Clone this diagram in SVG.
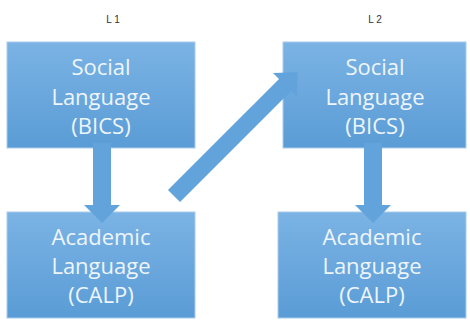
<svg xmlns="http://www.w3.org/2000/svg" width="470" height="323" viewBox="0 0 470 323">
<defs>
<linearGradient id="g" x1="0" y1="0" x2="0" y2="1">
<stop offset="0" stop-color="#7bb3e4"/>
<stop offset="1" stop-color="#5a9cd6"/>
</linearGradient>
<style>
.box{fill:url(#g);stroke:#a9ccec;stroke-width:1}
.t{font-family:"Open Sans","Liberation Sans",sans-serif;font-size:22px;fill:#eef5fc;text-anchor:middle}
.lbl{font-family:"Liberation Sans",sans-serif;font-size:10px;fill:#333;text-anchor:middle}
.arr{fill:#62a3dc}
</style>
</defs>
<rect width="470" height="323" fill="#fff"/>
<text class="lbl" x="113" y="23">L 1</text>
<text class="lbl" x="375" y="23">L 2</text>
<g id="l1-social">
<rect class="box" x="7" y="42" width="188" height="106"/>
<text class="t" x="101" y="75">Social</text>
<text class="t" x="101" y="105">Language</text>
<text class="t" x="101" y="134">(BICS)</text>
</g>
<g id="l2-social">
<rect class="box" x="283" y="42" width="183" height="106"/>
<text class="t" x="375" y="75">Social</text>
<text class="t" x="375" y="105">Language</text>
<text class="t" x="375" y="134">(BICS)</text>
</g>
<g id="l1-academic">
<rect class="box" x="7" y="212" width="188" height="106"/>
<text class="t" x="101" y="245">Academic</text>
<text class="t" x="101" y="274">Language</text>
<text class="t" x="101" y="303">(CALP)</text>
</g>
<g id="l2-academic">
<rect class="box" x="278" y="212" width="188" height="106"/>
<text class="t" x="372" y="245">Academic</text>
<text class="t" x="372" y="274">Language</text>
<text class="t" x="372" y="303">(CALP)</text>
</g>
<g id="connectors">
<polygon class="arr" points="93,143 111,143 111,205 120,205 102,223 84,205 93,205"/>
<polygon class="arr" points="364,143 382,143 382,205 391,205 373,223 355,205 364,205"/>
<polygon class="arr" transform="translate(174,196) rotate(-45)" points="0,-8.5 157,-8.5 157,-17 175,0 157,17 157,8.5 0,8.5"/>
</g>
</svg>
